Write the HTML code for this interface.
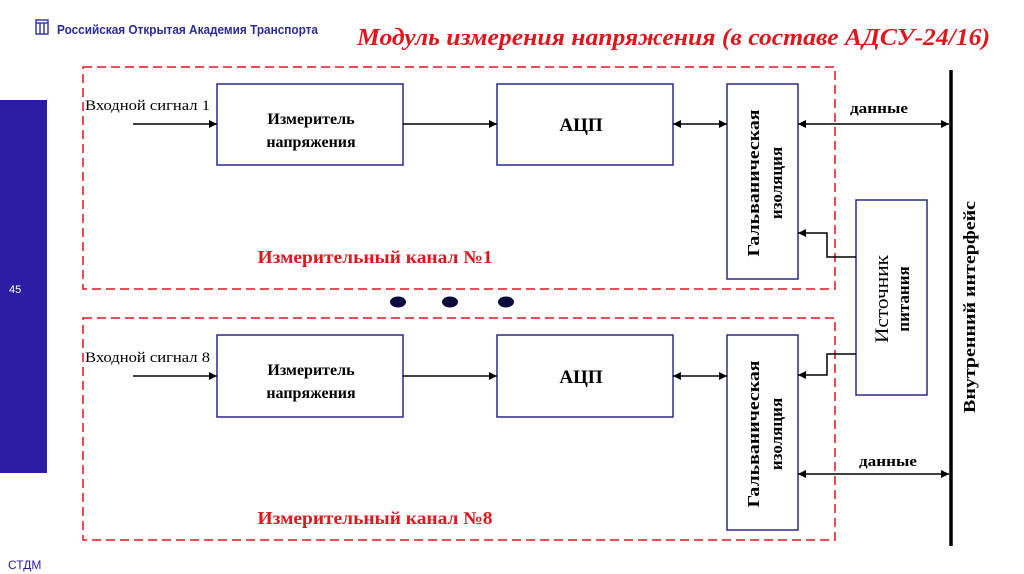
<!DOCTYPE html>
<html><head><meta charset="utf-8"><style>
html,body{margin:0;padding:0;background:#fff;}
svg{display:block;}
text{font-family:"Liberation Serif","DejaVu Serif",serif;}
</style></head><body>
<svg width="1024" height="574" viewBox="0 0 1024 574" xmlns="http://www.w3.org/2000/svg">
<defs>
<marker id="a" viewBox="0 0 10 10" refX="10" refY="5" markerWidth="10" markerHeight="8" markerUnits="userSpaceOnUse" orient="auto-start-reverse"><path d="M0,0L10,5L0,10z" fill="#000"/></marker>
</defs>
<rect x="0" y="100" width="47" height="373" fill="#2b1ca3"/>
<text x="9" y="293" font-size="11" fill="#fff" style="font-family:'Liberation Sans',sans-serif">45</text>
<text x="8" y="569" font-size="12" fill="#2b1ca3" style="font-family:'Liberation Sans',sans-serif">СТДМ</text>
<g fill="none" stroke="#3a3aa8" stroke-width="1.5"><rect x="36" y="20" width="12" height="14"/><line x1="36" y1="23" x2="48" y2="23"/><line x1="40" y1="23" x2="40" y2="34"/><line x1="44" y1="23" x2="44" y2="34"/></g>
<text x="57" y="34" font-size="12.5" font-weight="bold" fill="#2b2a9a" textLength="261" lengthAdjust="spacingAndGlyphs" style="font-family:'Liberation Sans',sans-serif">Российская Открытая Академия Транспорта</text>
<text x="357" y="45" font-size="24" font-weight="bold" font-style="italic" fill="#e2141c" textLength="633" lengthAdjust="spacingAndGlyphs">Модуль измерения напряжения (в составе АДСУ-24/16)</text>
<g fill="none" stroke="#e2141c" stroke-width="1.5" stroke-dasharray="9,5">
<rect x="83" y="67" width="752" height="222"/>
<rect x="83" y="318" width="752" height="222"/>
</g>
<g fill="#fff" stroke="#2a2a8a" stroke-width="1.5">
<rect x="217" y="84" width="186" height="81"/><rect x="497" y="84" width="176" height="81"/><rect x="727" y="84" width="71" height="195"/>
<rect x="217" y="335" width="186" height="82"/><rect x="497" y="335" width="176" height="82"/><rect x="727" y="335" width="71" height="195"/>
<rect x="856" y="200" width="71" height="195"/>
</g>
<line x1="951" y1="70" x2="951" y2="546" stroke="#000" stroke-width="3.5"/>
<g stroke="#000" stroke-width="1.5" fill="none">
<line x1="133" y1="124" x2="217" y2="124" marker-end="url(#a)"/>
<line x1="403" y1="124" x2="497" y2="124" marker-end="url(#a)"/>
<line x1="673" y1="124" x2="727" y2="124" marker-start="url(#a)" marker-end="url(#a)"/>
<line x1="798" y1="124" x2="949" y2="124" marker-start="url(#a)" marker-end="url(#a)"/>
<line x1="133" y1="376" x2="217" y2="376" marker-end="url(#a)"/>
<line x1="403" y1="376" x2="497" y2="376" marker-end="url(#a)"/>
<line x1="673" y1="376" x2="727" y2="376" marker-start="url(#a)" marker-end="url(#a)"/>
<line x1="798" y1="474" x2="949" y2="474" marker-start="url(#a)" marker-end="url(#a)"/>
<polyline points="856,257 827,257 827,233 798,233" marker-end="url(#a)"/>
<polyline points="856,354 827,354 827,375 798,375" marker-end="url(#a)"/>
</g>
<g font-size="15">
<text x="85" y="110" textLength="125" lengthAdjust="spacingAndGlyphs">Входной сигнал 1</text>
<text x="85" y="362" textLength="125" lengthAdjust="spacingAndGlyphs">Входной сигнал 8</text>
</g>
<g font-size="16" font-weight="bold" text-anchor="middle">
<text x="311" y="124">Измеритель</text><text x="311" y="147">напряжения</text>
<text x="311" y="375">Измеритель</text><text x="311" y="398">напряжения</text>
<text x="581" y="131" font-size="19">АЦП</text><text x="581" y="383" font-size="19">АЦП</text>
<text x="879" y="113" font-size="15" textLength="58" lengthAdjust="spacingAndGlyphs">данные</text><text x="888" y="466" font-size="15" textLength="58" lengthAdjust="spacingAndGlyphs">данные</text>
<text transform="translate(759,183) rotate(-90)" font-size="17" textLength="147" lengthAdjust="spacingAndGlyphs">Гальваническая</text>
<text transform="translate(782,183) rotate(-90)" font-size="17">изоляция</text>
<text transform="translate(759,434) rotate(-90)" font-size="17" textLength="147" lengthAdjust="spacingAndGlyphs">Гальваническая</text>
<text transform="translate(782,434) rotate(-90)" font-size="17">изоляция</text>
<text transform="translate(888,299) rotate(-90)" font-size="19" font-weight="normal" textLength="88" lengthAdjust="spacingAndGlyphs" style="font-weight:normal">Источник</text>
<text transform="translate(909,299) rotate(-90)" font-size="17">питания</text>
<text transform="translate(975,307) rotate(-90)" font-size="17" textLength="212" lengthAdjust="spacingAndGlyphs">Внутренний интерфейс</text>
</g>
<g font-size="18" font-weight="bold" fill="#e2141c" text-anchor="middle">
<text x="375" y="263" textLength="235" lengthAdjust="spacingAndGlyphs">Измерительный канал №1</text>
<text x="375" y="524" textLength="235" lengthAdjust="spacingAndGlyphs">Измерительный канал №8</text>
</g>
<g fill="#0c0c3c">
<ellipse cx="398" cy="302" rx="8" ry="5.5"/><ellipse cx="450" cy="302" rx="8" ry="5.5"/><ellipse cx="506" cy="302" rx="8" ry="5.5"/>
</g>
</svg>
</body></html>
